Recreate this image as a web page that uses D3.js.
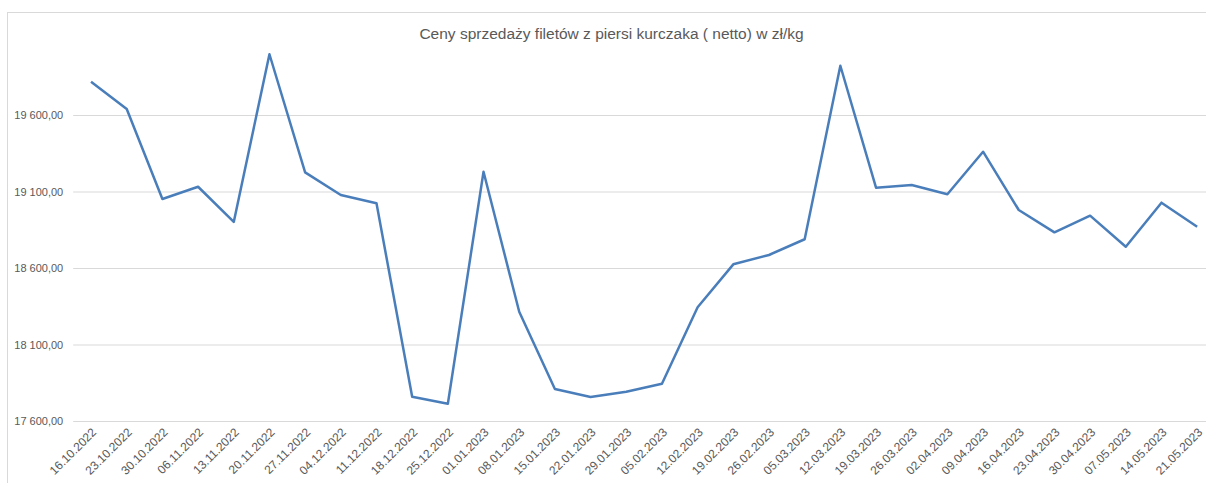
<!DOCTYPE html>
<html>
<head>
<meta charset="utf-8">
<script src="https://cdn.jsdelivr.net/npm/d3@7"></script>
<style>
  body { margin: 0; background: #fff; }
  svg { display: block; font-family: "Liberation Sans", Arial, sans-serif; }
  .tick text { fill: #595959; }
</style>
</head>
<body>
<div id="chart"></div>
<script>
// data
var dates = ["16.10.2022","23.10.2022","30.10.2022","06.11.2022","13.11.2022","20.11.2022",
  "27.11.2022","04.12.2022","11.12.2022","18.12.2022","25.12.2022","01.01.2023","08.01.2023",
  "15.01.2023","22.01.2023","29.01.2023","05.02.2023","12.02.2023","19.02.2023","26.02.2023",
  "05.03.2023","12.03.2023","19.03.2023","26.03.2023","02.04.2023","09.04.2023","16.04.2023",
  "23.04.2023","30.04.2023","07.05.2023","14.05.2023","21.05.2023"];
var prices = [19818,19639,19051,19131,18901,19997,19225,19077,19023,17759,17713,19229,18314,
  17809,17757,17791,17844,18343,18624,18685,18788,19922,19125,19142,19082,19360,18979,18833,
  18942,18739,19027,18870];
var yTicks = [17600,18100,18600,19100,19600];
var title = "Ceny sprzedaży filetów z piersi kurczaka ( netto) w zł/kg";

var W = 1206, H = 483;
var plot = {left: 73.2, right: 1215, top: 115, bottom: 421};

var svg = d3.select("#chart").append("svg")
    .attr("width", W)
    .attr("height", H);

// chart area border
svg.append("rect")
    .attr("x", 7.5).attr("y", 12.5)
    .attr("width", W + 20).attr("height", H + 20)
    .attr("fill", "none")
    .attr("stroke", "#d9d9d9");

svg.append("text")
    .attr("x", 611.5).attr("y", 39)
    .attr("text-anchor", "middle")
    .attr("font-size", "15.5px")
    .attr("fill", "#595959")
    .text(title);

var x = d3.scaleBand()
    .domain(dates)
    .range([plot.left, plot.right]);

var y = d3.scaleLinear()
    .domain([17600, 19600])
    .range([plot.bottom, plot.top]);

// gridlines + y labels
var yAxis = svg.append("g")
    .attr("transform", "translate(" + plot.left + ",0)")
    .call(d3.axisLeft(y)
      .tickValues(yTicks)
      .tickSize(-(plot.right - plot.left))
      .tickPadding(10)
      .tickFormat(function(d) { return d3.format(",.2f")(d).replace(",", " ").replace(".", ","); }));
yAxis.select(".domain").remove();
yAxis.selectAll(".tick line").attr("stroke", "#d9d9d9");
yAxis.selectAll(".tick text").attr("font-size", "11px");

// x labels
var xAxis = svg.append("g")
    .attr("transform", "translate(0," + plot.bottom + ")")
    .call(d3.axisBottom(x).tickSize(0).tickPadding(0));
xAxis.select(".domain").remove();
xAxis.selectAll(".tick text")
    .attr("font-size", "12px")
    .attr("text-anchor", "end")
    .attr("dy", 0)
    .attr("transform", "translate(6,12) rotate(-45)");

var line = d3.line()
    .x(function(d, i) { return x(dates[i]) + x.bandwidth() / 2; })
    .y(function(d) { return y(d); });

svg.append("path")
    .datum(prices)
    .attr("fill", "none")
    .attr("stroke", "#4a7ebb")
    .attr("stroke-width", 2.5)
    .attr("stroke-linejoin", "round")
    .attr("d", line);
</script>
</body>
</html>
